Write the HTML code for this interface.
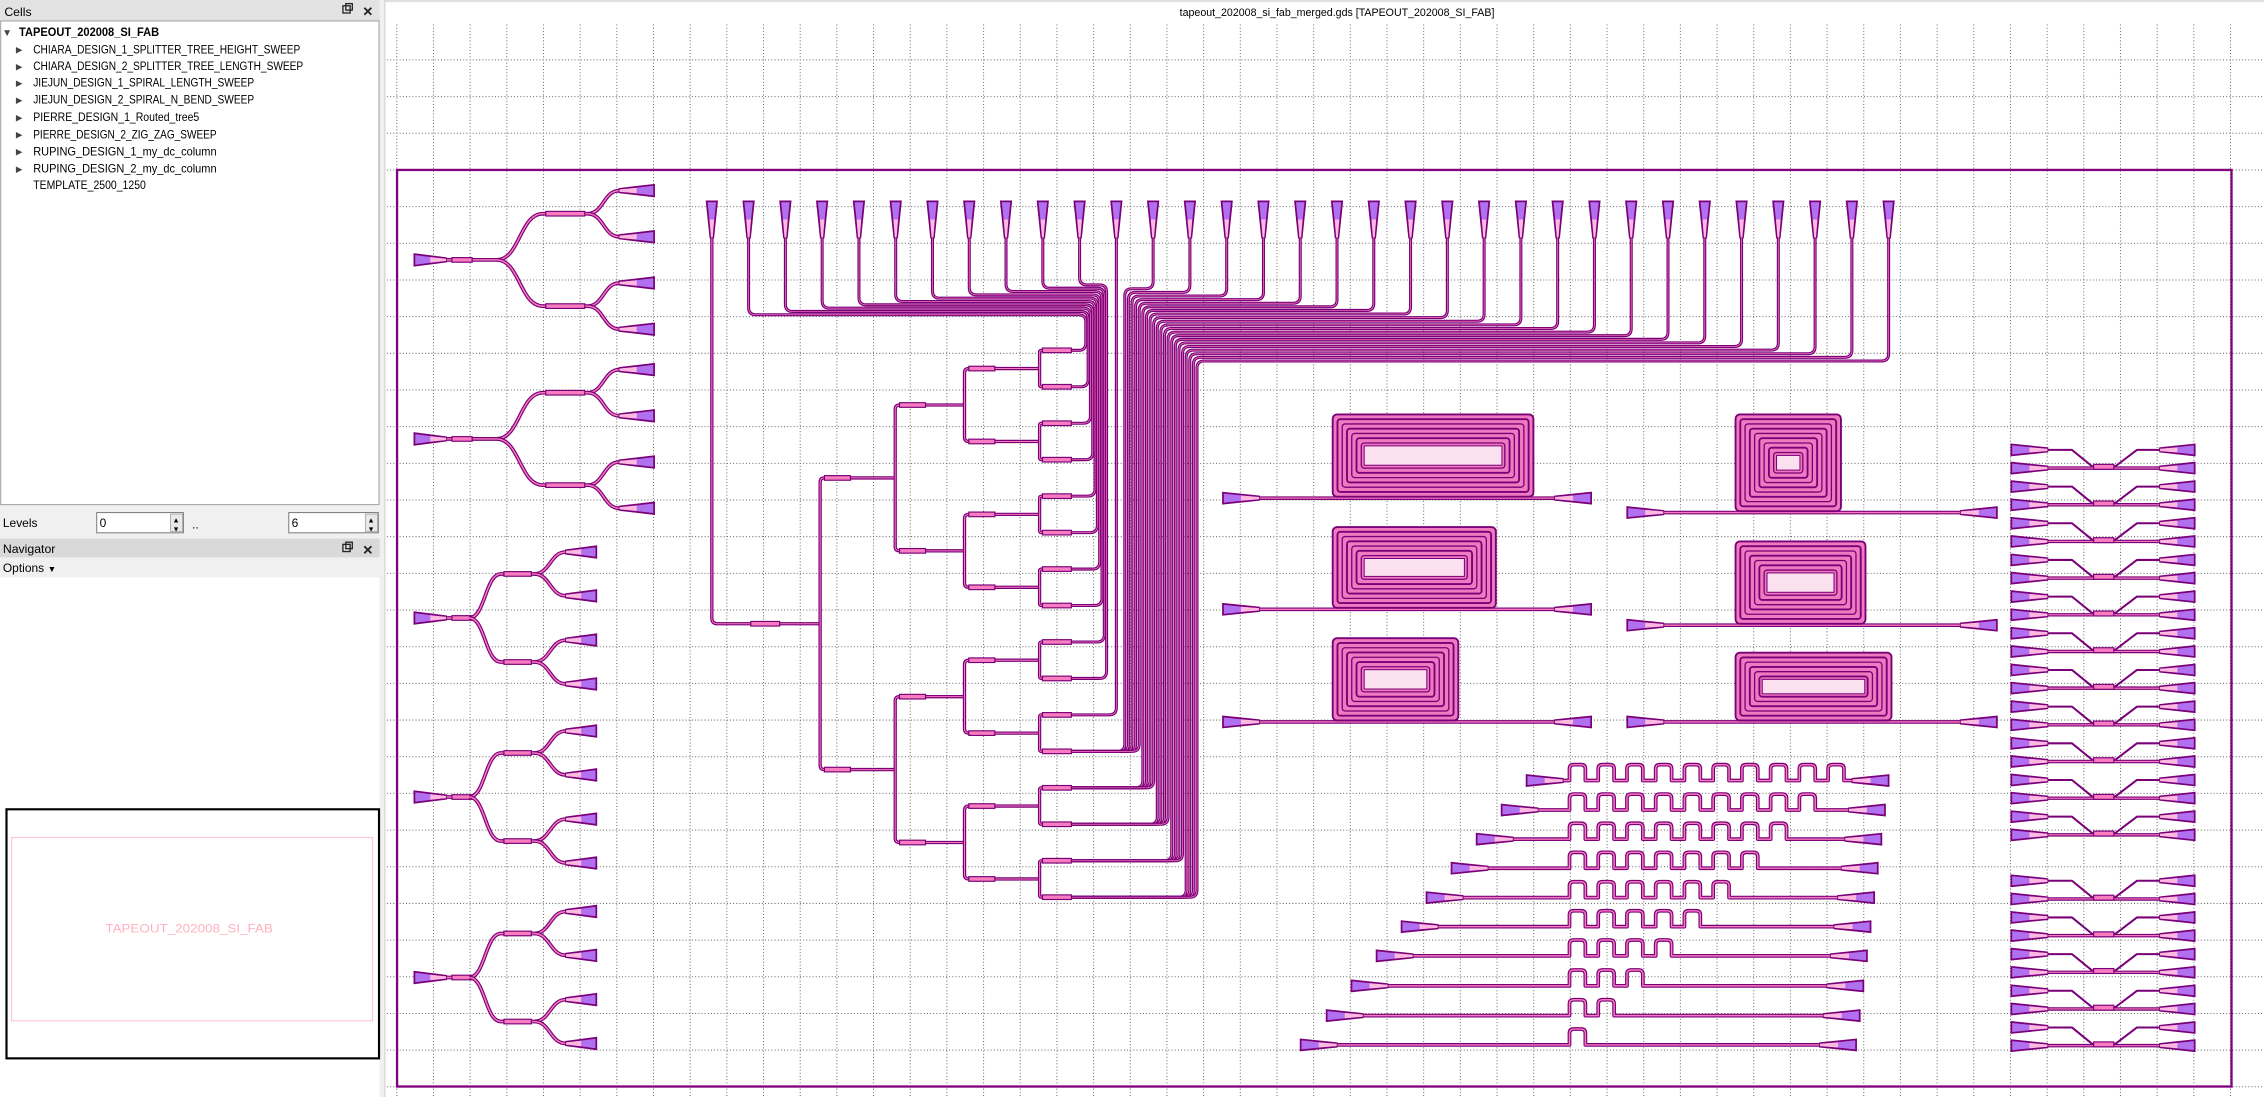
<!DOCTYPE html>
<html><head><meta charset="utf-8"><style>
html,body{margin:0;padding:0;background:#fff;overflow:hidden}
svg{display:block}
text{font-family:"Liberation Sans",sans-serif}
</style></head><body>
<svg id="R" xmlns="http://www.w3.org/2000/svg" width="2264" height="1097" viewBox="0 0 1568 759.76" preserveAspectRatio="none">
<rect x="0" y="0" width="1568" height="760" fill="#fff"/>
<rect x="0" y="0" width="266" height="760" fill="#f0f0f0"/>
<rect x="0" y="0" width="263" height="14.5" fill="#e3e3e3"/>
<text x="3" y="11" font-size="8.5" fill="#000">Cells</text>
<rect x="237.5" y="4" width="5" height="5" fill="none" stroke="#222" stroke-width="0.9"/>
<rect x="239.5" y="2.5" width="4.5" height="4.5" fill="none" stroke="#222" stroke-width="0.9"/>
<text x="251" y="11" font-size="9" fill="#222" font-weight="bold">✕</text>
<rect x="0.5" y="14.5" width="262" height="335" fill="#fff" stroke="#a0a0a0" stroke-width="0.7"/>
<g font-size="8.3" fill="#000">
<text x="1.5" y="25" font-size="7" fill="#444">▼</text>
<text x="13.2" y="25" font-weight="bold" textLength="97" lengthAdjust="spacingAndGlyphs">TAPEOUT_202008_SI_FAB</text>
<g font-size="6" fill="#444">
<text x="11" y="36.5">▶</text><text x="11" y="48">▶</text><text x="11" y="59.5">▶</text><text x="11" y="71.3">▶</text><text x="11" y="83.3">▶</text><text x="11" y="95.3">▶</text><text x="11" y="107">▶</text><text x="11" y="119">▶</text>
</g>
<text x="23" y="37" textLength="185" lengthAdjust="spacingAndGlyphs">CHIARA_DESIGN_1_SPLITTER_TREE_HEIGHT_SWEEP</text>
<text x="23" y="48.5" textLength="187" lengthAdjust="spacingAndGlyphs">CHIARA_DESIGN_2_SPLITTER_TREE_LENGTH_SWEEP</text>
<text x="23" y="60" textLength="153" lengthAdjust="spacingAndGlyphs">JIEJUN_DESIGN_1_SPIRAL_LENGTH_SWEEP</text>
<text x="23" y="71.8" textLength="153" lengthAdjust="spacingAndGlyphs">JIEJUN_DESIGN_2_SPIRAL_N_BEND_SWEEP</text>
<text x="23" y="83.8" textLength="115" lengthAdjust="spacingAndGlyphs">PIERRE_DESIGN_1_Routed_tree5</text>
<text x="23" y="95.8" textLength="127" lengthAdjust="spacingAndGlyphs">PIERRE_DESIGN_2_ZIG_ZAG_SWEEP</text>
<text x="23" y="107.6" textLength="127" lengthAdjust="spacingAndGlyphs">RUPING_DESIGN_1_my_dc_column</text>
<text x="23" y="119.6" textLength="127" lengthAdjust="spacingAndGlyphs">RUPING_DESIGN_2_my_dc_column</text>
<text x="23" y="131" textLength="78" lengthAdjust="spacingAndGlyphs">TEMPLATE_2500_1250</text>
</g>
<text x="2" y="365" font-size="8.3">Levels</text>
<rect x="67" y="355" width="60" height="14" fill="#fff" stroke="#7a7a7a" stroke-width="0.7"/>
<text x="69" y="365" font-size="8.3">0</text>
<rect x="118" y="356" width="8.5" height="12" fill="#e8e8e8" stroke="#999" stroke-width="0.5"/>
<text x="119.5" y="362" font-size="5">▲</text><text x="119.5" y="368" font-size="5">▼</text>
<text x="133" y="366" font-size="8.3">..</text>
<rect x="200" y="355" width="62" height="14" fill="#fff" stroke="#7a7a7a" stroke-width="0.7"/>
<text x="202" y="365" font-size="8.3">6</text>
<rect x="253" y="356" width="8.5" height="12" fill="#e8e8e8" stroke="#999" stroke-width="0.5"/>
<text x="254.5" y="362" font-size="5">▲</text><text x="254.5" y="368" font-size="5">▼</text>
<rect x="0" y="373" width="263" height="13" fill="#d9d9d9"/>
<text x="2" y="383" font-size="8.5">Navigator</text>
<rect x="237.5" y="377" width="5" height="5" fill="none" stroke="#222" stroke-width="0.9"/>
<rect x="239.5" y="375.5" width="4.5" height="4.5" fill="none" stroke="#222" stroke-width="0.9"/>
<text x="251" y="384" font-size="9" fill="#222" font-weight="bold">✕</text>
<text x="2" y="396" font-size="8.3">Options</text>
<text x="33" y="396" font-size="6">▼</text>
<rect x="0" y="400" width="263" height="360" fill="#fff"/>
<rect x="4.5" y="560.5" width="258" height="172.5" fill="#fff" stroke="#000" stroke-width="1.5"/>
<rect x="8" y="580" width="250" height="127" fill="none" stroke="#ffc8d0" stroke-width="0.8"/>
<text x="131" y="646" font-size="8" fill="#ffb0c0" text-anchor="middle" textLength="116" lengthAdjust="spacingAndGlyphs">TAPEOUT_202008_SI_FAB</text>
<rect x="267" y="0" width="1301" height="760" fill="#fff"/>
<line x1="266.5" y1="0" x2="266.5" y2="760" stroke="#d8d8d8" stroke-width="1"/>
<rect x="267" y="0" width="1301" height="1.5" fill="#e0e0e0"/>
<text x="926" y="11" font-size="7.6" text-anchor="middle" textLength="218" lengthAdjust="spacingAndGlyphs">tapeout_202008_si_fab_merged.gds [TAPEOUT_202008_SI_FAB]</text>
<g id="grid" stroke="#6a6a6a" stroke-width="0.7" stroke-dasharray="0.7 1.5"></g>
<rect x="275" y="117.7" width="1270.5" height="634.8" fill="none" stroke="#800080" stroke-width="1.6"/>
<g id="L"></g>
</svg>
<script>
const NS='http://www.w3.org/2000/svg';
const L=document.getElementById('L'), G=document.getElementById('grid');
function el(t,a,p){const e=document.createElementNS(NS,t);for(const k in a)e.setAttribute(k,a[k]);(p||L).appendChild(e);return e;}
for(let x=274.8;x<1568;x+=25.4) el('line',{x1:x,y1:17,x2:x,y2:760},G);
for(let y=41.5;y<760;y+=25.4) el('line',{x1:268,y1:y,x2:1568,y2:y},G);
function wg(d,w){w=w||2.3;el('path',{d:d,fill:'none',stroke:'#7a0078','stroke-width':w,'stroke-linejoin':'round'});el('path',{d:d,fill:'none',stroke:'#f77cc0','stroke-width':Math.max(w-1.6,0.4)});}
function thin(d){el('path',{d:d,fill:'none',stroke:'#7a0078','stroke-width':1.4,'stroke-linejoin':'round'});}
function taper(wx,wy,dx,dy,len,hw,hn){len=len||23;hw=hw||4;hn=hn||1.2;
 const nx=wx+dx*len,ny=wy+dy*len,px=-dy,py=dx;
 el('polygon',{points:[wx+px*hw,wy+py*hw,nx+px*hn,ny+py*hn,nx-px*hn,ny-py*hn,wx-px*hw,wy-py*hw].join(' '),fill:'#b070f0',stroke:'#7a0078','stroke-width':1.2});
 const mx=wx+dx*len*0.5,my=wy+dy*len*0.5,hm=(hw+hn)/2-0.7;
 el('polygon',{points:[mx+px*hm,my+py*hm,nx+px*(hn-0.4),ny+py*(hn-0.4),nx-px*(hn-0.4),ny-py*(hn-0.4),mx-px*hm,my-py*hm].join(' '),fill:'#ffb8e0'});
}
function rp(P,r){r=r||5;let d='M'+P[0][0]+','+P[0][1];
 for(let i=1;i<P.length-1;i++){const [x0,y0]=P[i-1],[x1,y1]=P[i],[x2,y2]=P[i+1];
  const l1=Math.hypot(x1-x0,y1-y0)||1,l2=Math.hypot(x2-x1,y2-y1)||1,rr=Math.min(r,l1/2,l2/2);
  d+='L'+(x1-(x1-x0)/l1*rr)+','+(y1-(y1-y0)/l1*rr)+'Q'+x1+','+y1+' '+(x1+(x2-x1)/l2*rr)+','+(y1+(y2-y1)/l2*rr);}
 const Z=P[P.length-1];return d+'L'+Z[0]+','+Z[1];}
function seg(x,y,w){el('rect',{x:x,y:y-1.6,width:w,height:3.2,fill:'#f77cc0',stroke:'#7a0078','stroke-width':0.8});}
function tree(y0,t){
 const A=t?{j:344,b1:376,s:407,b2:429,t:453,d1:32,d2:16}:{j:325,b1:347,s:370,b2:392,t:413,d1:30.5,d2:15.2};
 wg('M308,'+y0+'L'+A.j+','+y0,2.6); seg(313,y0,14);
 taper(287,y0,1,0,22,4);
 for(const s of[-1,1]){const y1=y0+s*A.d1,m=(A.j+A.b1)/2;
  wg('M'+A.j+','+y0+'C'+m+','+y0+' '+m+','+y1+' '+A.b1+','+y1+'L'+A.s+','+y1,2.6); seg(A.b1+2,y1,A.s-A.b1-4);
  for(const u of[-1,1]){const y2=y1+u*A.d2,m2=(A.s+A.b2)/2;
   wg('M'+A.s+','+y1+'C'+m2+','+y1+' '+m2+','+y2+' '+A.b2+','+y2+'L'+(A.t-20)+','+y2,2.6);
   taper(A.t,y2,-1,0,A.t-A.b2,4);}}
}
tree(180,1);tree(304,1);tree(428,0);tree(552,0);tree(677,0);
const tx=i=>493+25.47*i;
const xs=[568,620,668,720];const outs=[];
function node(x,y,dy,lv){
 for(const s of[-1,1]){const yc=y+s*dy;
  if(lv<3){wg(rp([[x,y],[x,yc],[xs[lv+1],yc]],3));seg(x+3,yc,18);node(xs[lv+1],yc,dy/2,lv+1);}
  else{wg(rp([[x,y],[x,yc],[x+3,yc]],3));outs.push(yc);}
 }}
wg(rp([[493,162],[493,432],[568,432]],4)); seg(520,432,20);
node(568,432,101,0);
outs.sort((a,b)=>a-b);
function route(P){wg(rp(P,5),2.1);}
for(let i=1;i<=10;i++){const yh=218-(i-1)*2.3,xv=752+(i-1)*1.6,ye=outs[i-1];
 route([[tx(i),162],[tx(i),yh],[xv,yh],[xv,ye],[722,ye]]);}
route([[tx(11),162],[tx(11),outs[10]],[722,outs[10]]]);
for(let i=12;i<=32;i++){const j=i-12,yh=200+j*2.5,xv=779+j*2.5,ye=outs[11+Math.floor(j*5/21)];
 route([[tx(i),162],[tx(i),yh],[xv,yh],[xv,ye],[722,ye]]);}
for(const y of outs) seg(722,y,20);
for(let i=0;i<=32;i++) taper(tx(i),139.5,0,1,25,3.6,1);
function spiral(x0,y0,x1,y1){
 el('rect',{x:x0,y:y0,width:x1-x0,height:y1-y0,rx:3,fill:'#f07ac0',stroke:'#7a0078','stroke-width':1.3});
 const st=3.3;let k=1,last=0;
 while((y1-y0)/2-k*st>5.5){const i=k*st;el('rect',{x:x0+i,y:y0+i,width:x1-x0-2*i,height:y1-y0-2*i,rx:2,fill:'none',stroke:'#7a0078','stroke-width':k%2?1.3:0.9});last=i;k++;}
 const i=last+2;el('rect',{x:x0+i,y:y0+i,width:x1-x0-2*i,height:y1-y0-2*i,fill:'#fbe0f0',stroke:'#7a0078','stroke-width':0.7});
}
function spLine(xl,xr,y){wg('M'+(xl+24)+','+y+'L'+(xr-24)+','+y,2.5);taper(xl,y,1,0,25,3.8);taper(xr,y,-1,0,25,3.8);}
spLine(847,1102,345);spiral(923,287,1062,344);
spLine(847,1102,422);spiral(923,365,1036,421);
spLine(847,1102,500);spiral(923,442,1010,499);
spLine(1127,1383,355);spiral(1202,287,1275,354);
spLine(1127,1383,433);spiral(1202,375,1292,432);
spLine(1127,1383,500);spiral(1202,452,1310,499);
const zy=[540.6,561,581.2,601.3,621.7,641.8,662,682.8,703.4,723.7];
const zx=[1057.3,1040,1022.7,1005.3,988,970.7,953.4,936,918.8,900.8];
const zn=[10,9,8,7,6,5,4,3,2,1];
zy.forEach((y,r)=>{const xr=1308-r*2.5;let d='M'+(zx[r]+24)+','+y+'L1087,'+y;
 for(let b=0;b<zn[r];b++){const bx=1087+b*19.9;
  d+='L'+bx+','+(y-8)+'Q'+bx+','+(y-11)+' '+(bx+3)+','+(y-11)+'L'+(bx+8)+','+(y-11)+'Q'+(bx+11)+','+(y-11)+' '+(bx+11)+','+(y-8)+'L'+(bx+11)+','+y+'L'+(bx+19.9)+','+y;}
 d+='L'+(xr-24)+','+y; wg(d,2.6);
 taper(zx[r],y,1,0,25,3.8);taper(xr,y,-1,0,25,3.8);
});
function dc(yt){const yb=yt+12.6;
 thin('M1417,'+yt+'L1435,'+yt+'L1449,'+(yb-1.2)+'L1465,'+(yb-1.2)+'L1480,'+yt+'L1497,'+yt);
 wg('M1417,'+yb+'L1497,'+yb,2.4);
 el('rect',{x:1450,y:yb-2.6,width:14,height:3.4,fill:'#f77cc0',stroke:'#7a0078','stroke-width':0.8});
 for(const y of[yt,yb]){taper(1393,y,1,0,25,3.8);taper(1520,y,-1,0,24,3.8);}
}
for(let k=0;k<11;k++) dc(311.6+k*25.4);
for(let k=0;k<5;k++) dc(610+k*25.4);
</script>
</body></html>
